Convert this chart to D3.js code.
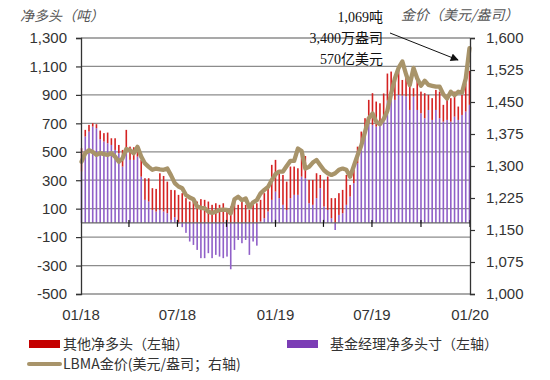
<!DOCTYPE html>
<html><head><meta charset="utf-8">
<script src="https://cdn.jsdelivr.net/npm/d3@7"></script>
<style>body{margin:0;background:#fff}svg{display:block}</style>
</head><body>
<svg id="chart" width="550" height="380"></svg>
<script>
// ---- data (weekly, starting 2018-01-02) ----
const startDate = "2018-01-02";
// 基金经理净多头寸（吨）
const fundNet = [361,607,642,677,666,588,572,560,548,513,490,396,490,443,443,466,325,162,150,91,80,91,80,68,21,40,
 -5,-30,-70,-131,-155,-190,-248,-248,-213,-248,-225,-237,-248,-237,-326,-190,-120,-143,-120,-225,-131,-160,
 10,33,80,162,220,174,127,91,174,197,197,325,314,138,127,174,244,115,91,33,-50,56,68,127,185,279,420,513,607,701,689,677,689,
 750,860,870,865,900,895,890,794,888,794,771,736,794,724,794,736,712,724,712,747,724,759,783,830];
// 其他净多头（吨）
const otherNet = [164,47,47,24,28,61,59,75,47,82,58,117,164,93,89,47,118,152,164,153,159,258,250,222,211,190,
 197,209,174,150,162,150,167,162,150,127,138,127,138,103,115,150,127,150,127,91,127,138,
 152,176,164,246,223,175,210,199,222,199,187,175,156,164,175,175,93,187,235,141,174,153,164,210,82,94,116,129,129,164,223,176,152,
 160,190,194,175,176,110,162,188,59,211,152,176,106,153,141,187,118,164,165,176,94,141,199,239];
// LBMA金价（美元/盎司）
const goldPrice = [1310,1330,1337,1333,1326,1330,1328,1326,1330,1322,1310,1318,1340,1337,1330,1345,1322,1306,1298,1291,1294,1292,1291,1294,1278,1260,
 1252,1248,1232,1226,1222,1205,1202,1201,1193,1190,1193,1197,1198,1197,1189,1222,1228,1220,1224,1203,1215,1220,
 1236,1244,1251,1267,1281,1287,1287,1300,1312,1312,1341,1335,1294,1298,1308,1314,1302,1290,1283,1279,1283,1291,1294,1291,1275,1300,1325,1348,1380,1412,1423,1404,1398,
 1410,1430,1470,1505,1530,1545,1515,1490,1530,1505,1488,1500,1490,1488,1486,1486,1468,1458,1474,1466,1474,1472,1505,1576];
const leftTicks = [1300,1100,900,700,500,300,100,-100,-300,-500];
const rightTicks = [1600,1525,1450,1375,1300,1225,1150,1075,1000];
const xLabelDates = ["2018-01-01","2018-07-01","2019-01-01","2019-07-01","2020-01-01"];
const xLabels = ["01/18","07/18","01/19","07/19","01/20"];
const xMinorDates = ["2018-04-01","2018-07-01","2018-10-01","2019-01-01","2019-04-01","2019-07-01","2019-10-01","2020-01-01"];
const seriesNames = ["其他净多头（左轴）","基金经理净多头寸（左轴）","LBMA金价(美元/盎司；右轴)"];
const annotLines = ["1,069吨","3,400万盎司","570亿美元"];

// ---- build ----
const svg = d3.select("#chart");
const L = 81, R = 470, T = 38, B = 294;
const parse = d3.utcParse("%Y-%m-%d");
const t0 = parse(startDate);
const rows = fundNet.map((f,i)=>({date:d3.utcDay.offset(t0,7*i), fund:f, other:otherNet[i], gold:goldPrice[i]}));

const x = d3.scaleUtc().domain([parse("2018-01-01"), parse("2020-01-01")]).range([L,R]);
const yL = d3.scaleLinear().domain([-500,1300]).range([B,T]);
const yR = d3.scaleLinear().domain([1000,1600]).range([B,T]);

const font = "'Liberation Sans', Arial, sans-serif";
const cjk = "'Noto Sans CJK SC', 'Liberation Sans', sans-serif";
const fmt = d => d3.format(",")(d).replace("\u2212","-");

// gridlines
svg.append("g").selectAll("line").data(leftTicks).join("line")
  .attr("x1",L).attr("x2",R).attr("y1",d=>yL(d)).attr("y2",d=>yL(d))
  .attr("stroke","#8c8c8c").attr("stroke-width",1.3);

// bars (diverging stack)
const stack = d3.stack().keys(["fund","other"]).offset(d3.stackOffsetDiverging)(rows);
const colors = {fund:"#9060c8", other:"#d42222"};
const bw = 1.6;
stack.forEach(layer=>{
  svg.append("g").selectAll("rect").data(layer).join("rect")
    .attr("x",d=>x(d.data.date)-bw/2)
    .attr("width",bw)
    .attr("y",d=>yL(Math.max(d[0],d[1])))
    .attr("height",d=>Math.abs(yL(d[0])-yL(d[1])))
    .attr("fill",colors[layer.key]);
});

// zero axis line with quarter ticks
svg.append("line").attr("x1",L).attr("x2",R).attr("y1",yL(0)).attr("y2",yL(0))
  .attr("stroke","#666").attr("stroke-width",1.2);
svg.append("g").selectAll("line").data(xMinorDates).join("line")
  .attr("x1",d=>x(parse(d))).attr("x2",d=>x(parse(d)))
  .attr("y1",yL(0)-3).attr("y2",yL(0)+4).attr("stroke","#111").attr("stroke-width",1.2);

// gold line
const line = d3.line().x(d=>x(d.date)).y(d=>yR(d.gold));
svg.append("path").datum(rows).attr("d",line)
  .attr("fill","none").attr("stroke","#a8946a").attr("stroke-width",4.3)
  .attr("stroke-linejoin","round").attr("stroke-linecap","round");

// axes
const gL = svg.append("g").attr("transform",`translate(${L},0)`)
  .call(d3.axisLeft(yL).tickValues(leftTicks).tickFormat(fmt).tickSize(5).tickPadding(9));
const gR = svg.append("g").attr("transform",`translate(${R},0)`)
  .call(d3.axisRight(yR).tickValues(rightTicks).tickFormat(fmt).tickSize(5).tickPadding(11));
[gL,gR].forEach(g=>{
  g.select(".domain").attr("stroke","#333").attr("stroke-width",1.3);
  g.selectAll(".tick line").attr("stroke","#333").attr("stroke-width",1.2);
  g.selectAll("text").attr("font-family",font).attr("font-size",15).attr("fill","#333");
});

// x labels
svg.append("g").selectAll("text").data(xLabelDates).join("text")
  .attr("x",d=>x(parse(d))).attr("y",320).attr("text-anchor","middle")
  .attr("font-family",font).attr("font-size",15).attr("fill","#333")
  .text((d,i)=>xLabels[i]);

// axis titles
svg.append("text").attr("x",20).attr("y",21).attr("font-family",cjk).attr("font-size",14)
  .attr("font-style","italic").attr("fill","#555").text("净多头（吨）");
svg.append("text").attr("x",401).attr("y",20).attr("font-family",cjk).attr("font-size",14)
  .attr("font-style","italic").attr("fill","#555").text("金价（美元/盎司）");

// annotation
const serif = "'Liberation Serif', 'Noto Sans CJK SC', serif";
svg.append("g").selectAll("text").data(annotLines).join("text")
  .attr("x",383).attr("y",(d,i)=>22+i*21).attr("text-anchor","end")
  .attr("font-family",serif).attr("font-size",14).attr("fill","#111").text(d=>d);
svg.append("defs").append("marker").attr("id","ah").attr("viewBox","0 0 10 10")
  .attr("refX",9).attr("refY",5).attr("markerWidth",10).attr("markerHeight",8)
  .attr("markerUnits","userSpaceOnUse").attr("orient","auto")
  .append("path").attr("d","M0,0L10,5L0,10z").attr("fill","#111");
svg.append("line").attr("x1",390).attr("y1",33).attr("x2",458).attr("y2",60)
  .attr("stroke","#111").attr("stroke-width",1).attr("marker-end","url(#ah)");

// legend
const lg = svg.append("g").attr("font-family",cjk).attr("font-size",14).attr("fill","#333");
lg.append("rect").attr("x",29).attr("y",340).attr("width",31).attr("height",8).attr("fill","#c40000");
lg.append("text").attr("x",63).attr("y",349).text(seriesNames[0]);
lg.append("rect").attr("x",287).attr("y",340).attr("width",31).attr("height",8).attr("fill","#7b3db5");
lg.append("text").attr("x",330).attr("y",349).text(seriesNames[1]);
lg.append("line").attr("x1",29).attr("x2",60).attr("y1",364).attr("y2",364)
  .attr("stroke","#a8946a").attr("stroke-width",4).attr("stroke-linecap","round");
lg.append("text").attr("x",63).attr("y",369).text(seriesNames[2]);
</script>
</body></html>
